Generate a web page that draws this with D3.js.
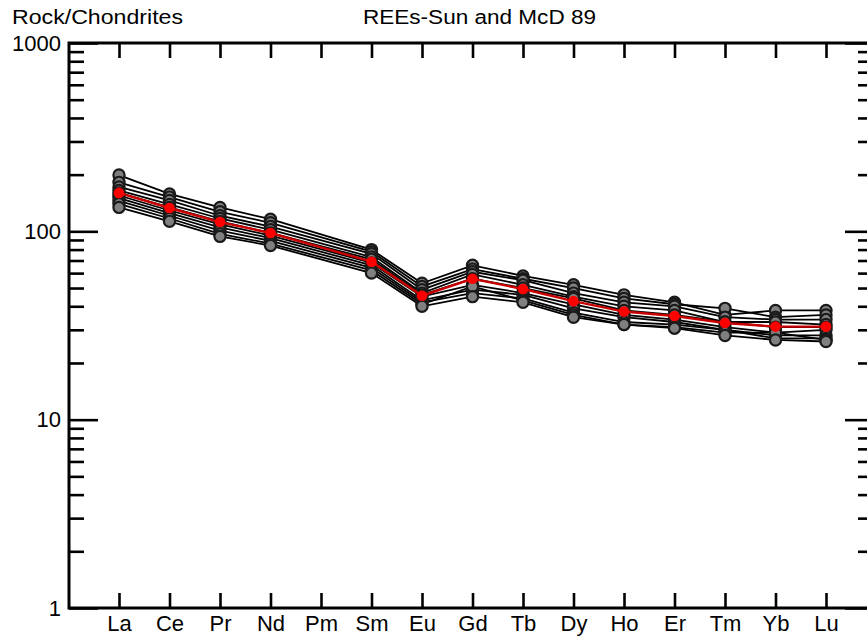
<!DOCTYPE html>
<html>
<head>
<meta charset="utf-8">
<script src="https://cdn.jsdelivr.net/npm/d3@7"></script>
<style>
  html, body { margin: 0; padding: 0; background: #fff; }
  svg { display: block; font-family: "Liberation Sans", Arial, sans-serif; }
</style>
</head>
<body>
<svg id="chart" width="867" height="641"></svg>
<script>
// REE spider diagram normalised to chondrite (Sun & McDonough 1989)
const elements = ["La","Ce","Pr","Nd","Pm","Sm","Eu","Gd","Tb","Dy","Ho","Er","Tm","Yb","Lu"];
const plotted  = ["La","Ce","Pr","Nd","Sm","Eu","Gd","Tb","Dy","Ho","Er","Tm","Yb","Lu"];

// normalised sample values, in the order of `plotted`
const sample1  = [199, 158, 134, 116, 80, 53, 66, 58, 52, 46, 42, 36, 38, 38];
const sample2  = [182, 152, 127, 111, 78, 51, 63, 56, 50, 44, 41, 39, 35, 36];
const sample3  = [172, 146, 121, 106, 76, 49, 61, 55, 47, 42, 40, 35, 34, 34];
const sample4  = [165, 139, 117, 102, 73, 47, 59, 52, 45, 40, 38, 33, 33, 32];
const sample5  = [160, 134, 113,  98, 71, 46, 56, 50, 44, 38, 36, 33, 31, 31];
const sample6  = [155, 129, 109,  95, 68, 45, 52, 47, 41, 36, 34, 31, 29, 30];
const sample7  = [150, 125, 105,  92, 66, 43, 49, 46, 39, 35, 33, 30, 28, 28];
const sample8  = [145, 121, 101,  89, 64, 42, 47, 44, 37, 33, 32, 30, 27, 27];
const sample9  = [140, 117,  97,  86, 62, 41, 51, 43, 36, 32, 31, 29, 29, 26.5];
const sample10 = [134, 113,  94,  84, 60, 40, 45, 42, 35, 32, 30.6, 28, 26.5, 26];
const samples = [sample1, sample2, sample3, sample4, sample5, sample6, sample7, sample8, sample9, sample10];

// average composition
const meanValues = [160, 133, 112, 98, 69, 45.5, 56, 49.4, 42.6, 37.5, 35.5, 32.6, 31.2, 31.2];

const majorTicks = [1, 10, 100, 1000];
const minorTicks = [2,3,4,5,6,7,8,9,20,30,40,50,60,70,80,90,200,300,400,500,600,700,800,900];

const frame = { left: 69, right: 876, top: 43, bottom: 608 };

const svg = d3.select("#chart");

const x = d3.scalePoint().domain(elements).range([119, 826]);
const y = d3.scaleLog().domain([1, 1000]).range([frame.bottom, frame.top]);

// titles
svg.append("text").attr("x", 12).attr("y", 24)
  .attr("font-size", 20).attr("textLength", 171).attr("lengthAdjust", "spacingAndGlyphs")
  .text("Rock/Chondrites");
svg.append("text").attr("x", 363).attr("y", 24)
  .attr("font-size", 20).attr("textLength", 233).attr("lengthAdjust", "spacingAndGlyphs")
  .text("REEs-Sun and McD 89");

// axes
function styleAxis(g) {
  g.select(".domain").remove();
  g.selectAll(".tick line").attr("stroke", "#000").attr("stroke-width", 2.6);
  g.selectAll(".tick text").attr("fill", "#000").attr("font-size", 22)
    .attr("font-family", "Liberation Sans, Arial, sans-serif");
}

svg.append("g").attr("transform", `translate(0,${frame.bottom})`)
  .call(d3.axisBottom(x).tickSizeInner(-15).tickSizeOuter(0).tickPadding(7))
  .call(styleAxis)
  .call(g => g.selectAll(".tick text").attr("dy", "0.71em"));

svg.append("g").attr("transform", `translate(0,${frame.top})`)
  .call(d3.axisTop(x).tickSizeInner(-15).tickSizeOuter(0).tickFormat(""))
  .call(styleAxis);

svg.append("g").attr("transform", `translate(${frame.left},0)`)
  .call(d3.axisLeft(y).tickValues(majorTicks).tickSizeInner(-29).tickSizeOuter(0)
    .tickPadding(8).tickFormat(d3.format("d")))
  .call(styleAxis);

svg.append("g").attr("transform", `translate(${frame.left},0)`)
  .call(d3.axisLeft(y).tickValues(minorTicks).tickSizeInner(-15).tickSizeOuter(0).tickFormat(""))
  .call(styleAxis);

svg.append("g").attr("transform", `translate(${frame.right},0)`)
  .call(d3.axisRight(y).tickValues(majorTicks).tickSizeInner(-31).tickSizeOuter(0).tickFormat(""))
  .call(styleAxis);

svg.append("g").attr("transform", `translate(${frame.right},0)`)
  .call(d3.axisRight(y).tickValues(minorTicks).tickSizeInner(-18).tickSizeOuter(0).tickFormat(""))
  .call(styleAxis);

// frame
svg.append("rect")
  .attr("x", frame.left).attr("y", frame.top)
  .attr("width", frame.right - frame.left).attr("height", frame.bottom - frame.top)
  .attr("fill", "none").attr("stroke", "#000").attr("stroke-width", 3);

const line = d3.line()
  .x((d, i) => x(plotted[i]))
  .y(d => y(d));

// sample patterns
const samplesG = svg.append("g");
samplesG.selectAll("path").data(samples).join("path")
  .attr("d", line).attr("fill", "none")
  .attr("stroke", "#000").attr("stroke-width", 1.8);

samples.forEach(s => {
  samplesG.append("g").selectAll("circle").data(s).join("circle")
    .attr("cx", (d, i) => x(plotted[i])).attr("cy", d => y(d))
    .attr("r", 5.6).attr("fill", "#808080")
    .attr("stroke", "#1a1a1a").attr("stroke-width", 2.2);
});

// average pattern
svg.append("path").datum(meanValues)
  .attr("d", line).attr("fill", "none")
  .attr("stroke", "#c80000").attr("stroke-width", 2.4);

svg.append("g").selectAll("circle").data(meanValues).join("circle")
  .attr("cx", (d, i) => x(plotted[i])).attr("cy", d => y(d))
  .attr("r", 5.3).attr("fill", "#ff0000");
</script>
</body>
</html>
